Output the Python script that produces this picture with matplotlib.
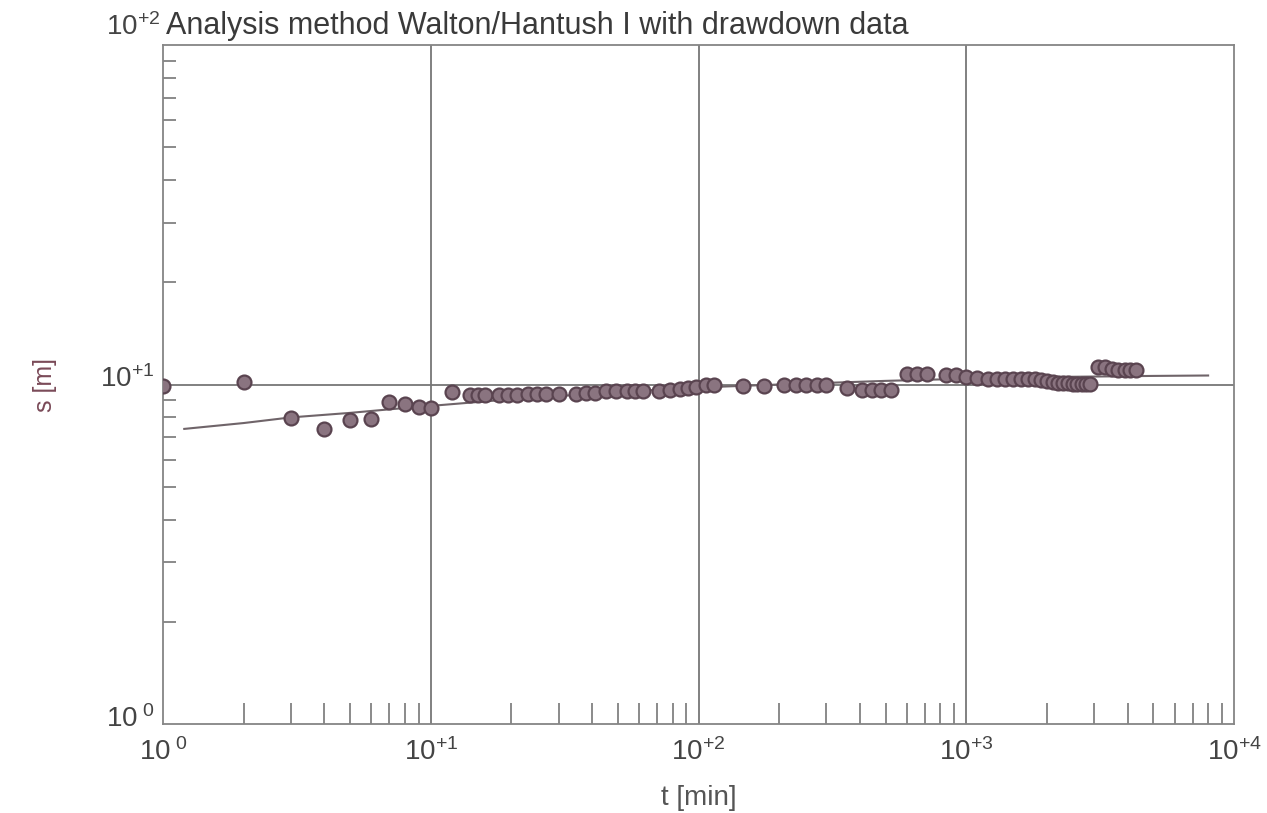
import matplotlib
matplotlib.use("Agg")
import matplotlib.pyplot as plt
from matplotlib.ticker import FixedLocator, NullFormatter, LogLocator
from matplotlib.transforms import ScaledTranslation

plt.rcParams['font.family'] = ['Liberation Sans', 'DejaVu Sans']
plt.rcParams['mathtext.fontset'] = 'custom'
plt.rcParams['mathtext.rm'] = 'Liberation Sans'
plt.rcParams['mathtext.it'] = 'Liberation Sans'
plt.rcParams['mathtext.bf'] = 'Liberation Sans'

# ---- data ----
t_obs = [1, 2, 3, 4, 5, 6, 7, 8, 9, 10,
         12, 14, 15, 16, 18, 19.5, 21, 23, 25, 27, 30, 35, 38, 41, 45, 49, 54, 58, 62,
         71, 78, 85, 91, 98, 107, 114,
         146, 176, 209, 232, 253, 276, 300, 357, 409, 446, 482, 525, 603, 656, 715, 842, 918,
         1000, 1100, 1200, 1300, 1400, 1500, 1600, 1700, 1800, 1900, 2000,
         2100, 2200, 2300, 2400, 2500, 2600, 2700, 2800, 2900,
         3100, 3300, 3500, 3700, 3900, 4100, 4300]
s_obs = [9.9, 10.15, 7.95, 7.4, 7.85, 7.9, 8.9, 8.75, 8.6, 8.5,
         9.5, 9.33, 9.33, 9.33, 9.33, 9.33, 9.33, 9.35, 9.35, 9.35, 9.4, 9.35, 9.47, 9.47, 9.57, 9.57, 9.57, 9.57, 9.57,
         9.6, 9.65, 9.7, 9.75, 9.8, 9.95, 9.95,
         9.93, 9.93, 10.0, 10.0, 10.0, 10.0, 10.0, 9.77, 9.64, 9.64, 9.64, 9.64, 10.77, 10.77, 10.77, 10.65, 10.65,
         10.5, 10.45, 10.4, 10.4, 10.4, 10.38, 10.38, 10.35, 10.35, 10.3, 10.25,
         10.15, 10.1, 10.1, 10.1, 10.05, 10.05, 10.05, 10.05, 10.05,
         11.25, 11.25, 11.1, 11.0, 11.0, 11.0, 11.0]

t_fit = [1.2, 2, 3, 5, 7, 10, 20, 50, 100, 200, 500, 1000, 2000, 5000, 8000]
s_fit = [7.4, 7.7, 8.0, 8.25, 8.45, 8.65, 9.05, 9.5, 9.8, 10.0, 10.25, 10.4, 10.52, 10.6, 10.63]

x_major = [1, 10, 100, 1000, 10000]
x_labels = [r'$10^{\ 0}$', r'$10^{+1}$', r'$10^{+2}$', r'$10^{+3}$', r'$10^{+4}$']
y_major = [1, 10, 100]
y_labels = [r'$10^{\ 0}$', r'$10^{+1}$', '']
title = 'Analysis method Walton/Hantush I with drawdown data'

# ---- figure ----
fig = plt.figure(figsize=(12.67, 8.13), dpi=100)
ax = fig.add_axes([0.1287, 0.1095, 0.974 - 0.1287, 0.9446 - 0.1095])
ax.set_xscale('log')
ax.set_yscale('log')
ax.set_xlim(1, 1e4)
ax.set_ylim(1, 100)

frame_c = '#858585'
for sp in ax.spines.values():
    sp.set_color(frame_c)
    sp.set_linewidth(1.3)

# grid lines at decades
for xv in x_major[1:-1]:
    ax.axvline(xv, color='#767676', lw=1.3, zorder=1)
ax.axhline(10, color='#767676', lw=1.3, zorder=1)

ax.plot(t_fit, s_fit, color='#6f6469', lw=1.5, zorder=2)
ax.plot(t_obs, s_obs, 'o', ms=10, mfc='#8a7480', mec='#5a4450', mew=1.6, zorder=3)

ax.xaxis.set_major_locator(FixedLocator(x_major))
ax.set_xticklabels(x_labels)
ax.yaxis.set_major_locator(FixedLocator(y_major))
ax.set_yticklabels(y_labels)
ax.xaxis.set_minor_locator(LogLocator(base=10, subs=range(2, 10)))
ax.yaxis.set_minor_locator(LogLocator(base=10, subs=range(2, 10)))
ax.xaxis.set_minor_formatter(NullFormatter())
ax.yaxis.set_minor_formatter(NullFormatter())

ax.tick_params(which='major', length=0, labelsize=20, labelcolor='#444444')
ax.tick_params(axis='x', which='major', pad=10)
ax.tick_params(axis='y', which='major', pad=6)
ax.tick_params(axis='x', which='minor', direction='in', length=15, width=1.2, color='#777777')
ax.tick_params(axis='y', which='minor', direction='in', length=9, width=1.2, color='#777777')
ax.tick_params(top=False, right=False, which='both')

# y tick labels sit slightly above their grid level in the original
shift = ScaledTranslation(0, 6 / 72, fig.dpi_scale_trans)
for lab in ax.get_yticklabels():
    lab.set_transform(lab.get_transform() + shift)

ax.annotate(r'$10^{+2}$', xy=(0, 1), xycoords='axes fraction', xytext=(-2, 3),
            textcoords='offset points', ha='right', va='bottom', fontsize=20, color='#444444')
ax.annotate(title, xy=(0, 1), xycoords='axes fraction', xytext=(2, 3),
            textcoords='offset points', ha='left', va='bottom', fontsize=22, color='#3a3a3a')

ax.set_xlabel('t [min]', fontsize=20, color='#555555', labelpad=14)
ax.set_ylabel('s [m]', fontsize=18, color='#7a4a58', labelpad=31)

fig.savefig('out.png', dpi=100)
